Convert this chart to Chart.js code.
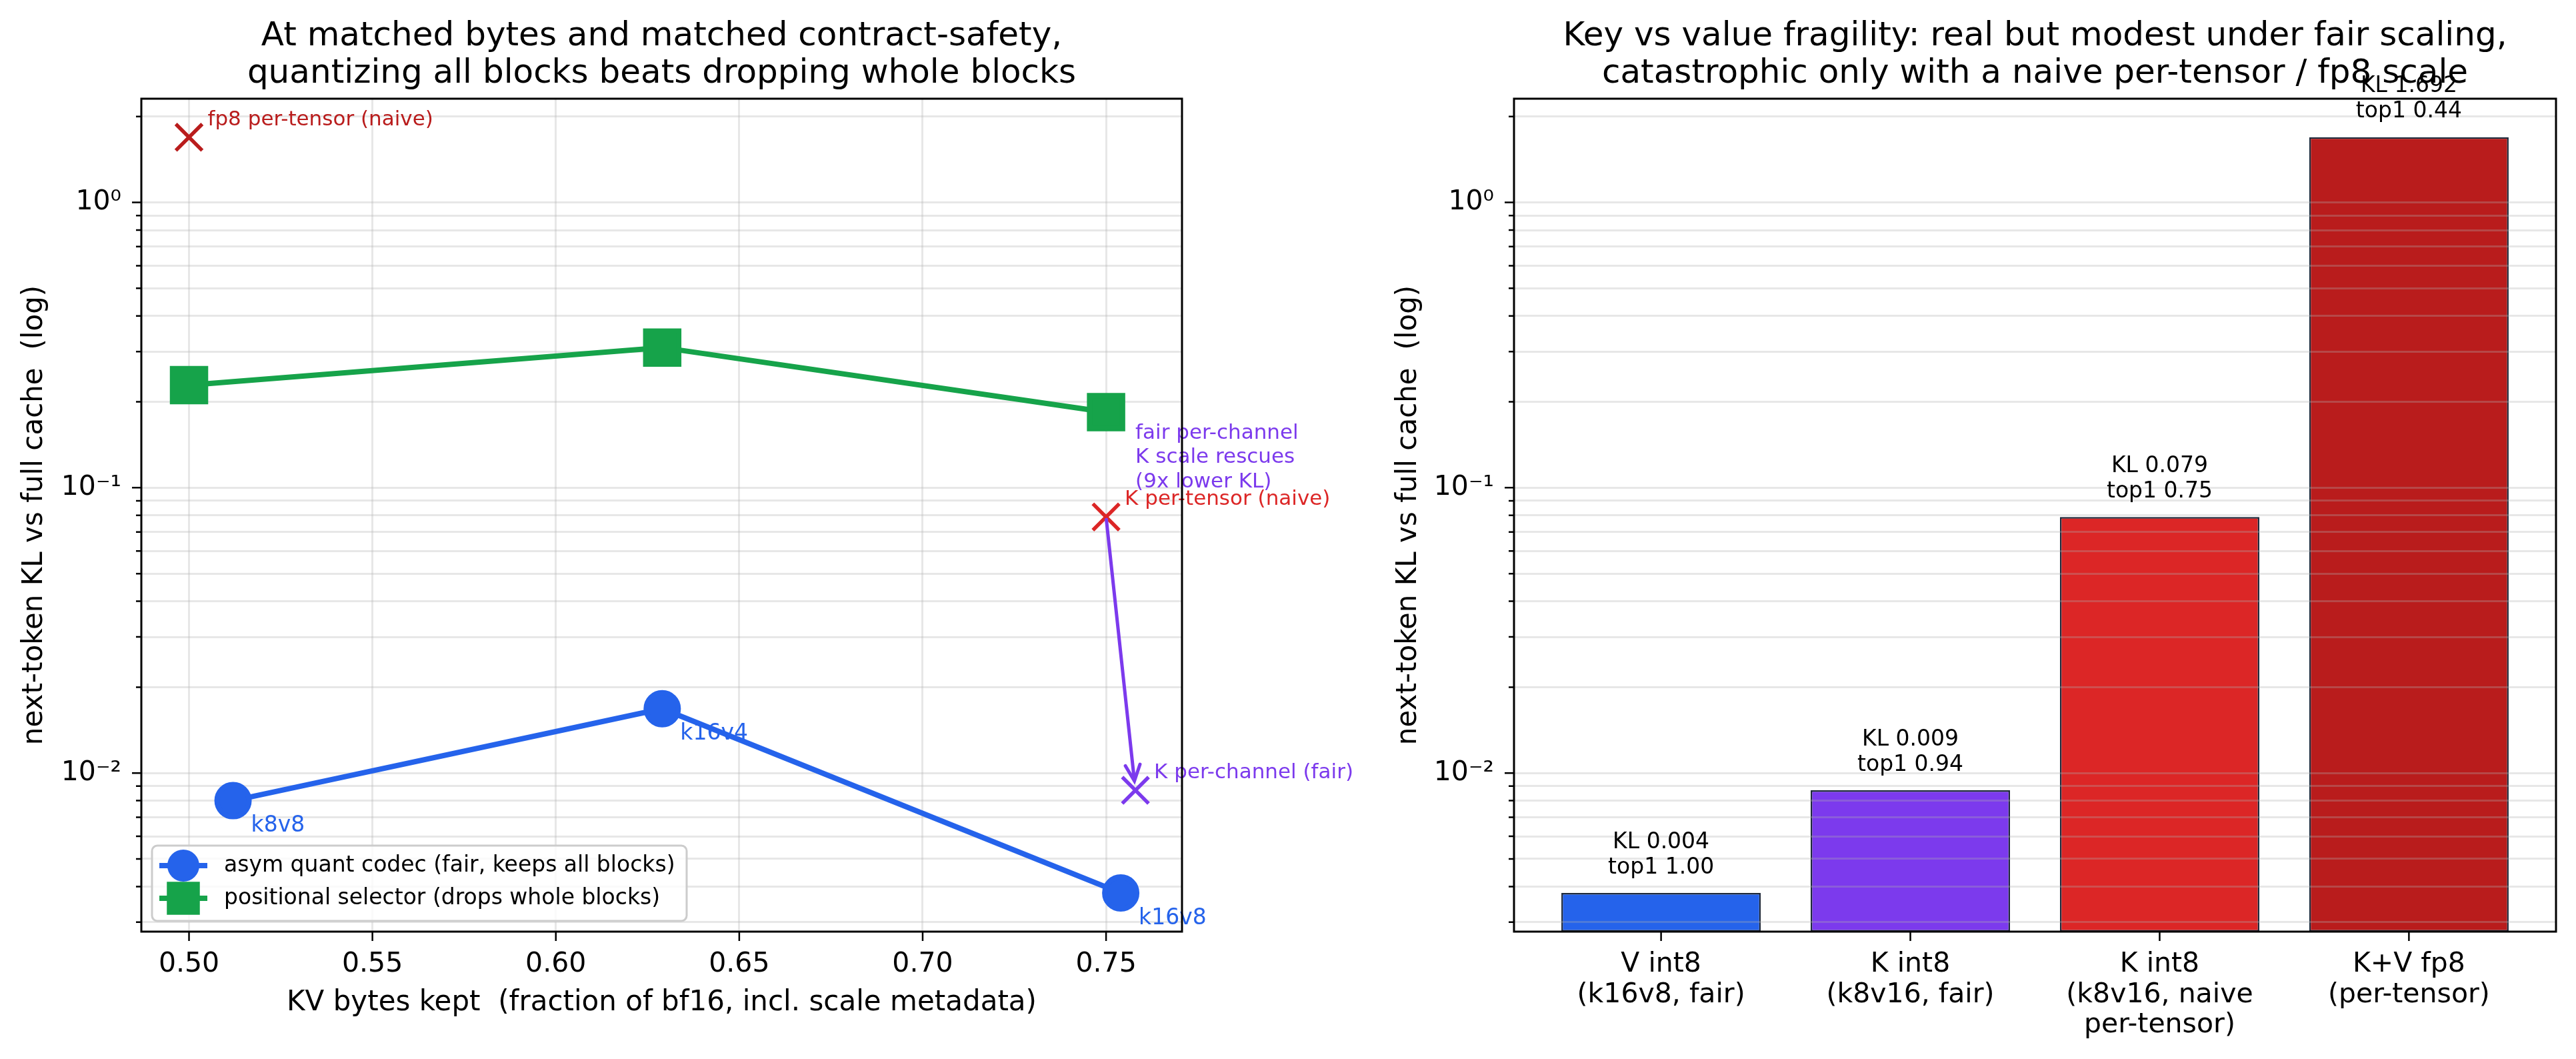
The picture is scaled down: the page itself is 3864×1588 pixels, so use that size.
<!DOCTYPE html>
<html>
<head>
<meta charset="utf-8">
<script src="https://cdn.jsdelivr.net/npm/chart.js@4.4.1/dist/chart.umd.min.js"></script>
<style>
html, body { margin: 0; padding: 0; background: #fff; }
body { width: 3864px; height: 1588px; position: relative; overflow: hidden; }
canvas { position: absolute; top: 0; }
#left { left: 0; }
#right { left: 1990px; }
</style>
</head>
<body>
<canvas id="left" width="2060" height="1588"></canvas>
<canvas id="right" width="1874" height="1588"></canvas>
<script>
// ---- data ----
const xTicksLeft = [0.50, 0.55, 0.60, 0.65, 0.70, 0.75];
const yMajorValues = [0.01, 0.1, 1];
const yMajorLabels = ['10\u207B\u00B2', '10\u207B\u00B9', '10\u2070'];

const codecBytes = [0.512, 0.629, 0.754];
const codecKL = [0.0080, 0.0168, 0.0038];
const codecNames = ['k8v8', 'k16v4', 'k16v8'];

const selectorBytes = [0.50, 0.629, 0.75];
const selectorKL = [0.229, 0.310, 0.184];

const naiveBytes = [0.50, 0.75];
const naiveKL = [1.692, 0.079];
const naiveNames = ['fp8 per-tensor (naive)', 'K per-tensor (naive)'];

const fairBytes = [0.758];
const fairKL = [0.0087];
const fairNames = ['K per-channel (fair)'];

const rescueText = ['fair per-channel', 'K scale rescues', '(9x lower KL)'];

const barCategories = [
  ['V int8', '(k16v8, fair)'],
  ['K int8', '(k8v16, fair)'],
  ['K int8', '(k8v16, naive', 'per-tensor)'],
  ['K+V fp8', '(per-tensor)']
];
const barKL = [0.0038, 0.0087, 0.079, 1.692];
const barTop1 = [1.00, 0.94, 0.75, 0.44];
const barColors = ['#2563eb', '#7c3aed', '#dc2626', '#b91c1c'];

const BLUE = '#2563eb', GREEN = '#16a34a', PURPLE = '#7c3aed';
const GRID = 'rgba(176,176,176,0.3)';
const FONT = '"DejaVu Sans", sans-serif';

Chart.defaults.font.family = FONT;
Chart.defaults.color = '#000';

const yMin = 0.00278, yMax = 2.31;

function buildLogTicks(scale) {
  const ticks = [];
  const decades = [yMajorValues[0] / 10].concat(yMajorValues);
  decades.forEach(base => {
    for (let m = 1; m <= 9; m++) {
      const v = +(base * m).toPrecision(3);
      if (v >= scale.min && v <= scale.max) ticks.push({ value: v, major: m === 1 });
    }
  });
  scale.ticks = ticks;
}
function logLabel(v) {
  const i = yMajorValues.indexOf(v);
  return i >= 0 ? yMajorLabels[i] : '';
}

// spines + tick marks
const framePlugin = {
  id: 'frame',
  afterDraw(chart) {
    const { ctx, chartArea: a, scales } = chart;
    ctx.save();
    ctx.strokeStyle = '#000';
    ctx.lineWidth = 2.5;
    ctx.beginPath();
    scales.y.ticks.forEach(t => {
      const p = scales.y.getPixelForValue(t.value);
      const len = t.major ? 14 : 8;
      ctx.moveTo(a.left - len, p);
      ctx.lineTo(a.left, p);
    });
    scales.x.ticks.forEach(t => {
      const p = scales.x.getPixelForValue(t.value);
      ctx.moveTo(p, a.bottom);
      ctx.lineTo(p, a.bottom + 14);
    });
    ctx.stroke();
    ctx.lineWidth = 3;
    ctx.strokeRect(a.left, a.top, a.right - a.left, a.bottom - a.top);
    ctx.restore();
  }
};

// text next to points
const pointLabels = {
  id: 'pointLabels',
  afterDatasetsDraw(chart) {
    const { ctx } = chart;
    chart.data.datasets.forEach((ds, i) => {
      if (!ds.names) return;
      const meta = chart.getDatasetMeta(i);
      meta.data.forEach((pt, j) => {
        ctx.save();
        ctx.font = ds.nameSize + 'px ' + FONT;
        ctx.fillStyle = Array.isArray(ds.nameColor) ? ds.nameColor[j] : ds.nameColor;
        ctx.textBaseline = 'middle';
        ctx.textAlign = 'left';
        ctx.fillText(ds.names[j], pt.x + ds.nameOffset[0], pt.y + ds.nameOffset[1]);
        ctx.restore();
      });
    });
  }
};

// arrow from naive K point to fair K point, with note
const rescueArrow = {
  id: 'rescueArrow',
  afterDatasetsDraw(chart, args, opts) {
    const { ctx, scales } = chart;
    const from = chart.getDatasetMeta(2).data[1];
    const to = chart.getDatasetMeta(3).data[0];
    const dx = to.x - from.x, dy = to.y - from.y;
    const d = Math.hypot(dx, dy);
    const ux = dx / d, uy = dy / d;
    const sx = from.x + ux * 4, sy = from.y + uy * 4;
    const ex = to.x - ux * 14, ey = to.y - uy * 14;
    ctx.save();
    ctx.strokeStyle = PURPLE;
    ctx.lineWidth = 5;
    ctx.lineCap = 'round';
    ctx.beginPath();
    ctx.moveTo(sx, sy);
    ctx.lineTo(ex, ey);
    const hl = 24, hw = 11;
    ctx.moveTo(ex - ux * hl + uy * hw, ey - uy * hl - ux * hw);
    ctx.lineTo(ex, ey);
    ctx.lineTo(ex - ux * hl - uy * hw, ey - uy * hl + ux * hw);
    ctx.stroke();

    ctx.fillStyle = PURPLE;
    ctx.font = '31px ' + FONT;
    ctx.textBaseline = 'middle';
    const tx = scales.x.getPixelForValue(opts.at[0]);
    const ty = scales.y.getPixelForValue(opts.at[1]);
    rescueText.forEach((line, k) => ctx.fillText(line, tx, ty + k * 36.5));
    ctx.restore();
  }
};

// legend in lower-left, matplotlib style
const boxLegend = {
  id: 'boxLegend',
  afterDraw(chart) {
    const { ctx, chartArea: a } = chart;
    const items = chart.data.datasets.filter(ds => ds.inLegend);
    const x0 = a.left + 16, w = 802, h = 113;
    const y0 = a.bottom - 16 - h;
    ctx.save();
    ctx.fillStyle = 'rgba(255,255,255,0.8)';
    ctx.strokeStyle = '#cccccc';
    ctx.lineWidth = 3;
    ctx.beginPath();
    ctx.roundRect(x0, y0, w, h, 8);
    ctx.fill();
    ctx.stroke();
    items.forEach((ds, k) => {
      const cy = y0 + 30 + k * 49;
      ctx.strokeStyle = ds.borderColor;
      ctx.lineWidth = ds.borderWidth;
      ctx.beginPath();
      ctx.moveTo(x0 + 11, cy);
      ctx.lineTo(x0 + 83, cy);
      ctx.stroke();
      ctx.fillStyle = ds.pointBackgroundColor;
      ctx.beginPath();
      if (ds.pointStyle === 'circle') {
        ctx.arc(x0 + 47, cy, ds.pointRadius, 0, Math.PI * 2);
      } else {
        const s = ds.pointRadius * Math.SQRT1_2;
        ctx.rect(x0 + 47 - s, cy - s, 2 * s, 2 * s);
      }
      ctx.fill();
      ctx.fillStyle = '#000';
      ctx.font = '33px ' + FONT;
      ctx.textBaseline = 'middle';
      ctx.fillText(ds.label, x0 + 108, cy);
    });
    ctx.restore();
  }
};

// left chart
new Chart(document.getElementById('left'), {
  type: 'line',
  data: {
    datasets: [
      {
        label: 'asym quant codec (fair, keeps all blocks)',
        data: codecBytes.map((x, i) => ({ x, y: codecKL[i] })),
        borderColor: BLUE, backgroundColor: BLUE,
        pointBackgroundColor: BLUE, pointBorderColor: BLUE,
        borderWidth: 8, pointStyle: 'circle', pointRadius: 24,
        inLegend: true,
        names: codecNames, nameColor: BLUE, nameSize: 33, nameOffset: [27, 38]
      },
      {
        label: 'positional selector (drops whole blocks)',
        data: selectorBytes.map((x, i) => ({ x, y: selectorKL[i] })),
        borderColor: GREEN, backgroundColor: GREEN,
        pointBackgroundColor: GREEN, pointBorderColor: GREEN,
        borderWidth: 8, pointStyle: 'rect', pointRadius: 35,
        inLegend: true
      },
      {
        label: 'naive',
        data: naiveBytes.map((x, i) => ({ x, y: naiveKL[i] })),
        showLine: false, pointStyle: 'crossRot', pointRadius: 28, pointBorderWidth: 5.5,
        pointBorderColor: ['#b91c1c', '#dc2626'],
        names: naiveNames, nameColor: ['#b91c1c', '#dc2626'], nameSize: 31, nameOffset: [28, -26]
      },
      {
        label: 'fair',
        data: fairBytes.map((x, i) => ({ x, y: fairKL[i] })),
        showLine: false, pointStyle: 'crossRot', pointRadius: 28, pointBorderWidth: 5.5,
        pointBorderColor: PURPLE,
        names: fairNames, nameColor: PURPLE, nameSize: 31, nameOffset: [28, -26]
      }
    ]
  },
  options: {
    responsive: false, animation: false, devicePixelRatio: 1,
    layout: { padding: { left: 0, right: 287, top: 0, bottom: 0 } },
    plugins: {
      legend: { display: false },
      tooltip: { enabled: false },
      title: {
        display: true, fullSize: false,
        text: ['At matched bytes and matched contract-safety,', 'quantizing all blocks beats dropping whole blocks'],
        font: { size: 50, weight: 'normal', lineHeight: 1.12 },
        padding: { top: 27, bottom: 9 }
      },
      rescueArrow: { at: [0.758, 0.155] }
    },
    scales: {
      x: {
        type: 'linear', min: 0.487, max: 0.7707,
        afterBuildTicks: s => { s.ticks = xTicksLeft.map(v => ({ value: v })); },
        afterFit: s => { s.height = 191; },
        ticks: { callback: v => v.toFixed(2), font: { size: 41, lineHeight: 1.2 }, padding: 25, maxRotation: 0 },
        grid: { color: GRID, lineWidth: 3, drawTicks: false },
        border: { display: false },
        title: {
          display: true, text: 'KV bytes kept  (fraction of bf16, incl. scale metadata)',
          font: { size: 42, lineHeight: 1.2 }, padding: { top: 0, bottom: 59 }
        }
      },
      y: {
        type: 'logarithmic', min: yMin, max: yMax,
        afterBuildTicks: buildLogTicks,
        afterFit: s => { s.width = 212; },
        ticks: { callback: logLabel, font: { size: 41 }, padding: 30, autoSkip: false },
        grid: { color: GRID, lineWidth: 3, drawTicks: false },
        border: { display: false },
        title: {
          display: true, text: 'next-token KL vs full cache  (log)',
          font: { size: 42, lineHeight: 1.2 }, padding: { top: 27, bottom: 0 }
        }
      }
    }
  },
  plugins: [framePlugin, pointLabels, rescueArrow, boxLegend]
});

// bar value labels
const barLabels = {
  id: 'barLabels',
  afterDraw(chart) {
    const { ctx } = chart;
    const meta = chart.getDatasetMeta(0);
    ctx.save();
    ctx.fillStyle = '#000';
    ctx.font = '33px ' + FONT;
    ctx.textAlign = 'center';
    ctx.textBaseline = 'middle';
    meta.data.forEach((bar, i) => {
      ctx.fillText('KL ' + barKL[i].toFixed(3), bar.x, bar.y - 76);
      ctx.fillText('top1 ' + barTop1[i].toFixed(2), bar.x, bar.y - 38);
    });
    ctx.restore();
  }
};

// right chart
new Chart(document.getElementById('right'), {
  type: 'bar',
  data: {
    datasets: [{
      label: 'KL',
      data: barKL.map((y, i) => ({ x: i, y })),
      backgroundColor: barColors,
      borderColor: '#1e293b',
      borderWidth: 2.5,
      borderSkipped: false,
      barPercentage: 0.8,
      categoryPercentage: 1.0
    }]
  },
  options: {
    responsive: false, animation: false, devicePixelRatio: 1,
    layout: { padding: { left: 0, right: 30, top: 0, bottom: 0 } },
    plugins: {
      legend: { display: false },
      tooltip: { enabled: false },
      title: {
        display: true, fullSize: false,
        text: ['Key vs value fragility: real but modest under fair scaling,', 'catastrophic only with a naive per-tensor / fp8 scale'],
        font: { size: 50, weight: 'normal', lineHeight: 1.12 },
        padding: { top: 27, bottom: 9 }
      }
    },
    scales: {
      x: {
        type: 'linear', min: -0.59, max: 3.59, offset: false,
        afterBuildTicks: s => { s.ticks = barCategories.map((c, i) => ({ value: i })); },
        afterFit: s => { s.height = 191; },
        ticks: { callback: v => barCategories[v], font: { size: 41, lineHeight: 1.11 }, padding: 27, maxRotation: 0, autoSkip: false },
        grid: { display: false, drawTicks: false },
        border: { display: false }
      },
      y: {
        type: 'logarithmic', min: yMin, max: yMax,
        afterBuildTicks: buildLogTicks,
        afterFit: s => { s.width = 281; },
        ticks: { callback: logLabel, font: { size: 41 }, padding: 30, autoSkip: false },
        grid: { color: GRID, lineWidth: 3, drawTicks: false, z: 1 },
        border: { display: false },
        title: {
          display: true, text: 'next-token KL vs full cache  (log)',
          font: { size: 42, lineHeight: 1.2 }, padding: { top: 98, bottom: 0 }
        }
      }
    }
  },
  plugins: [framePlugin, barLabels]
});
</script>
</body>
</html>
